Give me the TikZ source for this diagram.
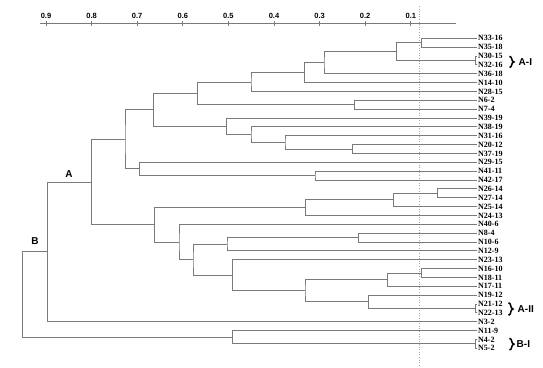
\documentclass[tikz,border=0pt]{standalone}
\usepackage{fontspec}
\setmainfont{Liberation Serif}
\newfontfamily\lsans{Liberation Sans}
\usetikzlibrary{calc,decorations.pathreplacing}
\newcommand\mkjoin[4]{%
  \path let \p1=(#3), \p2=(#4) in (#2pt,{(\y1+\y2)/2}) coordinate (#1);%
  \draw[br] (#3) -| (#1) |- (#4);}
\begin{document}
\begin{tikzpicture}[x=1pt,y=-1pt,
  br/.style={draw=black!52,line width=0.9pt},
  leaflab/.style={anchor=west,inner sep=0pt,font=\fontsize{8}{9}\selectfont\bfseries},
  ticklab/.style={inner sep=0pt,font=\lsans\fontsize{7.5}{9}\selectfont\bfseries},
  grplab/.style={inner sep=0pt,font=\lsans\fontsize{10}{12}\selectfont\bfseries},
  clbrace/.style={decorate,decoration={brace,amplitude=4.5pt},line width=1.5pt,draw=black}]
\useasboundingbox (0,0) rectangle (543,367);
% reference dotted line
\coordinate (dtop) at (419.3,6);
\coordinate (dbot) at (419.3,367);
\draw[black!35,line width=0.8pt,dash pattern=on 1pt off 1.6pt] (dtop) -- (dbot);
% axis
\coordinate (axL) at (40,23.3);
\coordinate (axR) at (456,23.3);
\draw[br] (axL) -- (axR);
\foreach \v [count=\k] in {0.9,0.8,0.7,0.6,0.5,0.4,0.3,0.2,0.1} {
  \coordinate (tk\k) at ({46+(\k-1)*45.6},21);
  \coordinate (tb\k) at ({46+(\k-1)*45.6},26);
  \draw[br] (tk\k) -- (tb\k);
  \node[ticklab] (tl\k) at ({46+(\k-1)*45.6},15.7) {\v};
}
% leaves
\foreach \lab [count=\i] in {N33-16,N35-18,N30-15,N32-16,N36-18,N14-10,N28-15,N6-2,N7-4,N39-19,N38-19,N31-16,N20-12,N37-19,N29-15,N41-11,N42-17,N26-14,N27-14,N25-14,N24-13,N40-6,N8-4,N10-6,N12-9,N23-13,N16-10,N18-11,N17-11,N19-12,N21-12,N22-13,N3-2,N11-9,N4-2,N5-2} {
  \coordinate (l\i) at (476.5,{38.3+8.857*(\i-1)});
  \node[leaflab] (t\i) at (478,{38.3+8.857*(\i-1)}) {\lab};
}
% clusters
\mkjoin{c1}{421.7}{l1}{l2}
\mkjoin{c2}{475.5}{l3}{l4}
\mkjoin{c3}{396.7}{c1}{c2}
\mkjoin{c4}{324}{c3}{l5}
\mkjoin{c5}{304.3}{c4}{l6}
\mkjoin{c6}{251}{c5}{l7}
\mkjoin{c7}{354.3}{l8}{l9}
\mkjoin{c8}{197.7}{c6}{c7}
\mkjoin{c9}{352.7}{l13}{l14}
\mkjoin{c10}{285}{l12}{c9}
\mkjoin{c11}{251}{l11}{c10}
\mkjoin{c12}{226.7}{l10}{c11}
\mkjoin{c13}{153.3}{c8}{c12}
\mkjoin{c14}{315}{l16}{l17}
\mkjoin{c15}{139.3}{l15}{c14}
\mkjoin{c16}{125}{c13}{c15}
\mkjoin{c17}{437.7}{l18}{l19}
\mkjoin{c18}{393.3}{c17}{l20}
\mkjoin{c19}{305.7}{c18}{l21}
\mkjoin{c20}{358.3}{l23}{l24}
\mkjoin{c21}{227}{c20}{l25}
\mkjoin{c22}{421.7}{l27}{l28}
\mkjoin{c23}{387.7}{c22}{l29}
\mkjoin{c24}{475.5}{l31}{l32}
\mkjoin{c25}{368.7}{l30}{c24}
\mkjoin{c26}{305}{c23}{c25}
\mkjoin{c27}{232.3}{l26}{c26}
\mkjoin{c28}{193}{c21}{c27}
\mkjoin{c29}{179}{l22}{c28}
\mkjoin{c30}{154.3}{c19}{c29}
\mkjoin{c31}{91.3}{c16}{c30}
\mkjoin{c32}{47.3}{c31}{l33}
\mkjoin{c33}{475.5}{l35}{l36}
\mkjoin{c34}{232.7}{l34}{c33}
\mkjoin{c35}{22.7}{c32}{c34}
% group letters
\node[grplab] (gA) at (69,174) {A};
\node[grplab] (gB) at (35,241) {B};
% braces and cluster names
\draw[clbrace] (509.5,56.3) -- (509.5,67.5);
\node[grplab,anchor=west] (AI) at (518.5,62) {A-I};
\draw[clbrace] (508.5,302.7) -- (508.5,315.3);
\node[grplab,anchor=west] (AII) at (517.5,309.3) {A-II};
\draw[clbrace] (509.5,338.3) -- (509.5,350);
\node[grplab,anchor=west] (BI) at (516.5,344) {B-I};
\end{tikzpicture}
\end{document}
